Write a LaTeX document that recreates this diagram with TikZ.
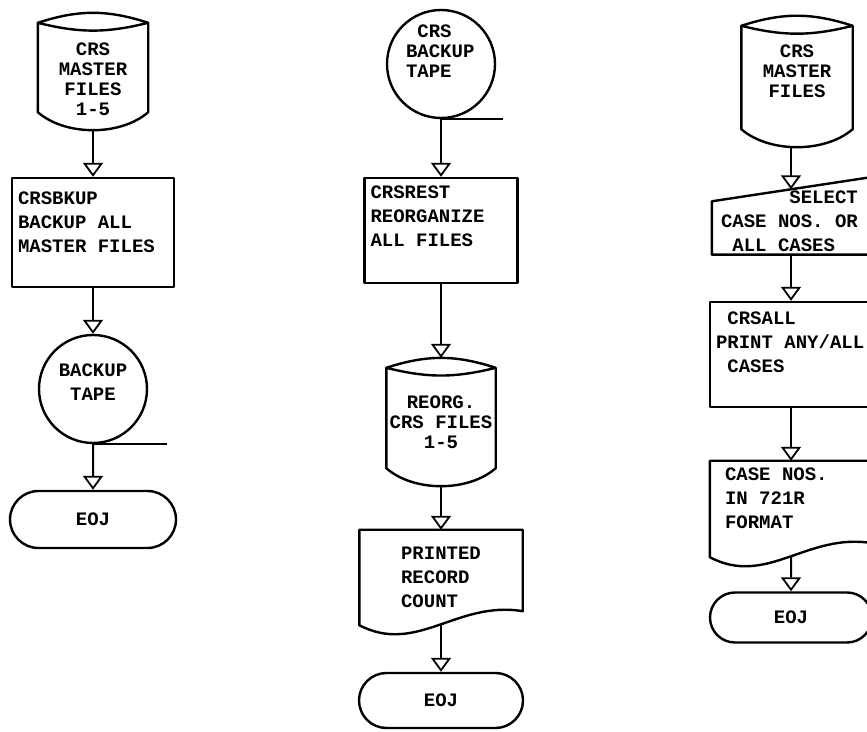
\documentclass[tikz,border=0pt]{standalone}
\usepackage{fontspec}
\setmonofont{Liberation Mono}[WordSpace={1,0,0}]
\usetikzlibrary{arrows.meta, calc, shapes.misc}
\newcommand{\crsfont}{\fontsize{19}{24}\selectfont\ttfamily\bfseries}
\newcommand{\crsdiskfont}{\fontsize{19}{20}\selectfont\ttfamily\bfseries}
\tikzset{
  mono/.style={font=\crsfont, execute at begin node={\frenchspacing\spaceskip=0pt\xspaceskip=0pt}},
  outl/.style={draw=black, line width=2.4pt, line join=round},
  proc/.style={outl, mono, rectangle, align=left, inner xsep=6pt},
  term/.style={outl, mono, rounded rectangle, inner sep=0pt},
  tape/.style={outl, mono, circle, align=center, inner sep=0pt, minimum size=108pt,
    append after command={\pgfextra{\draw[draw=black, line width=2pt]
      (\tikzlastnode.south) -- ++(#1,0pt);}}},
  disk/.style={mono, align=center, font=\crsdiskfont, inner sep=0pt,
    append after command={\pgfextra{\draw[outl]
      ([yshift=-10pt]\tikzlastnode.north west) to[bend left=18] ([yshift=-10pt]\tikzlastnode.north east)
      to[bend left=14] ([yshift=-10pt]\tikzlastnode.north west)
      -- ([yshift=18pt]\tikzlastnode.south west)
      .. controls ($(\tikzlastnode.south west)!.25!(\tikzlastnode.south east)+(0pt,-6pt)$)
      and ($(\tikzlastnode.south west)!.75!(\tikzlastnode.south east)+(0pt,-6pt)$)
      .. ([yshift=18pt]\tikzlastnode.south east)
      -- ([yshift=-10pt]\tikzlastnode.north east);}}},
  doc/.style={mono, align=left, inner sep=0pt,
    append after command={\pgfextra{\draw[outl]
      (\tikzlastnode.south west) -- (\tikzlastnode.north west) -- (\tikzlastnode.north east)
      -- ([yshift=14pt]\tikzlastnode.south east)
      .. controls ($(\tikzlastnode.south west)!.6!(\tikzlastnode.south east)+(0pt,25pt)$)
      and ($(\tikzlastnode.south west)!.35!(\tikzlastnode.south east)+(0pt,-30pt)$)
      .. (\tikzlastnode.south west) -- cycle;}}},
  manual/.style={mono, align=left, inner sep=0pt,
    append after command={\pgfextra{\draw[outl]
      (\tikzlastnode.north east) -- ([yshift=-24pt]\tikzlastnode.north west)
      -- (\tikzlastnode.south west) -- (\tikzlastnode.south east) -- cycle;}}},
  flow/.style={draw=black, line width=2pt,
    -{Triangle[open, length=14pt, width=20pt, line width=1.8pt]}},
}
\begin{document}
\begin{tikzpicture}[x=1pt, y=1pt]
  \useasboundingbox (0,0) rectangle (867,731);
  \clip (0,0) rectangle (867,731);

  % backup run
  \node[disk, minimum width=110pt, minimum height=117pt, text width=100pt, text height=28pt]
    (mf1) at (93,659.5) {CRS\\MASTER\\FILES\\1-5};
  \node[proc, minimum width=162pt, minimum height=109pt, text width=150pt, text depth=69pt]
    (bk1) at (93,498.5) {CRSBKUP\\BACKUP ALL\\MASTER FILES};
  \node[tape=74pt, text width=90pt, text depth=38pt] (tp1) at (93,342) {BACKUP\\TAPE};
  \node[term, minimum width=166pt, minimum height=57pt] (eoj1) at (93,211.5) {EOJ};

  % restore run
  \node[tape=62pt, align=left, font=\crsdiskfont, text width=70pt, text depth=66pt]
    (tp2) at (441,667) {\phantom{X}CRS\\BACKUP\\TAPE};
  \node[proc, minimum width=153pt, minimum height=105pt, text width=141pt, text depth=77pt]
    (rs2) at (441,500.5) {CRSREST\\REORGANIZE\\ALL FILES};
  \node[disk, minimum width=109pt, minimum height=128pt] (rf2) at (441,309) {REORG.\\CRS FILES\\1-5};
  \node[doc, minimum width=163pt, minimum height=95pt] (pr2) at (441,153.5) {PRINTED\\RECORD\\COUNT};
  \node[term, minimum width=164pt, minimum height=55pt] (eoj2) at (441,30.5) {EOJ};

  % print run
  \node[disk, minimum width=111pt, minimum height=131pt, text width=100pt, text depth=61pt]
    (mf3) at (797,649.5) {CRS\\MASTER\\FILES};
  \node[manual, minimum width=158pt, minimum height=77pt, text width=140pt, text height=24pt]
    (sel3) at (791,515) {\phantom{XXXXXX}SELECT\\CASE NOS. OR\\\phantom{X}ALL CASES};
  \node[proc, minimum width=162pt, minimum height=105pt, text width=150pt, text depth=73pt]
    (ca3) at (791,376.5) {\phantom{X}CRSALL\\PRINT ANY/ALL\\\phantom{X}CASES};
  \node[doc, minimum width=162pt, minimum height=96pt, text width=132pt, text depth=70pt]
    (fm3) at (791,222) {CASE NOS.\\IN 721R\\FORMAT};
  \node[term, minimum width=162pt, minimum height=50pt] (eoj3) at (791,113.5) {EOJ};

  \draw[flow] (mf1) -- (bk1);
  \draw[flow] (bk1) -- (tp1);
  \draw[flow] (tp1) -- (eoj1);
  \draw[flow] (tp2) -- (rs2);
  \draw[flow] (rs2) -- (rf2);
  \draw[flow] (rf2) -- (pr2);
  \draw[flow] (pr2) -- (eoj2);
  \draw[flow] (mf3.south -| sel3.north) -- ([yshift=-12pt]sel3.north);
  \draw[flow] (sel3) -- (ca3);
  \draw[flow] (ca3) -- (fm3);
  \draw[flow] (fm3) -- (eoj3);
\end{tikzpicture}
\end{document}
